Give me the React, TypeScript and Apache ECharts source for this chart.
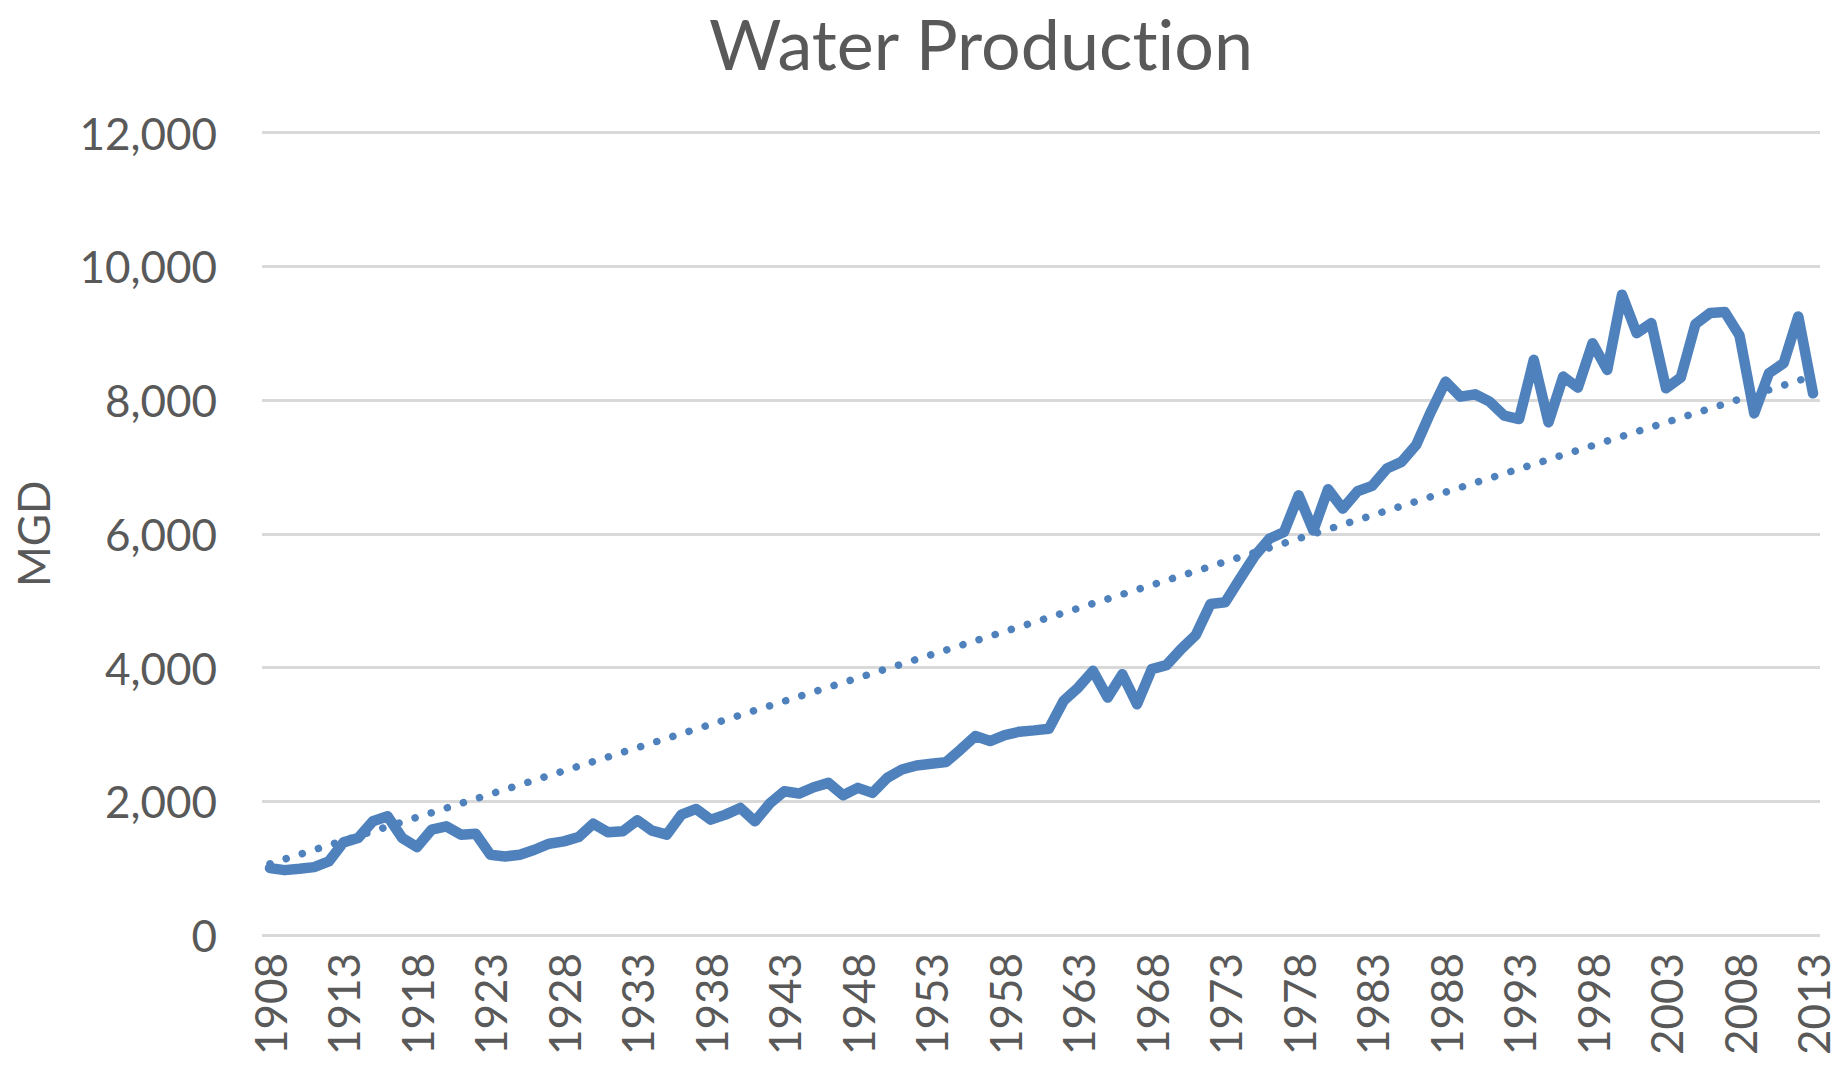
import React, { useEffect, useRef } from "react";
import * as echarts from "echarts";

const firstYear = 1908;
const years: string[] = Array.from({ length: 106 }, (_, i) => String(firstYear + i));

const production: number[] = [
  1000, 970, 990, 1015, 1100, 1385, 1450, 1700, 1775, 1450,
  1315, 1575, 1625, 1500, 1515, 1200, 1175, 1200, 1275, 1365,
  1400, 1465, 1665, 1535, 1550, 1715, 1560, 1500, 1800, 1885,
  1725, 1800, 1900, 1700, 1965, 2150, 2115, 2210, 2275, 2090,
  2200, 2125, 2350, 2475, 2535, 2560, 2585, 2775, 2975, 2900,
  2990, 3040, 3060, 3085, 3500, 3700, 3950, 3550, 3900, 3450,
  3975, 4035, 4275, 4485, 4950, 4975, 5325, 5665, 5925, 6025,
  6575, 6050, 6665, 6375, 6635, 6715, 6975, 7075, 7330, 7825,
  8275, 8050, 8085, 7975, 7765, 7715, 8600, 7665, 8350, 8185,
  8850, 8450, 9575, 9000, 9150, 8175, 8335, 9135, 9300, 9315,
  8965, 7800, 8400, 8550, 9250, 8100,
];

// Linear trendline end values (1908 and 2013)
const trendStart = 1065;
const trendEnd = 8360;

const yMin = 0;
const yMax = 12000;
const yStep = 2000;

const TEXT = "#595959";
const BLUE = "#4F81BD";
const FONT = "Lato";

export default function App() {
  const ref = useRef<HTMLDivElement>(null);

  useEffect(() => {
    if (!ref.current) return;
    const chart = echarts.init(ref.current, null, { renderer: "svg" });
    const trend = years.map((_, i) =>
      i === 0 ? trendStart : i === years.length - 1 ? trendEnd : null
    );
    chart.setOption({
      animation: false,
      backgroundColor: "#ffffff",
      textStyle: { fontFamily: FONT, color: TEXT },
      title: {
        text: "Water Production",
        left: 981,
        top: 8,
        padding: 0,
        textAlign: "center",
        textStyle: {
          fontFamily: FONT,
          fontSize: 70,
          lineHeight: 70,
          fontWeight: "normal",
          color: TEXT,
        },
      },
      grid: [
        { left: 262, right: 19, top: 132.5, bottom: 131 },
        { left: 270, right: 26, top: 132.5, bottom: 131 },
      ],
      xAxis: [
        { gridIndex: 0, type: "value", min: 0, max: 1, show: false },
        {
          gridIndex: 1,
          type: "category",
          data: years,
          boundaryGap: false,
          axisLine: { show: false },
          axisTick: { show: false },
          splitLine: { show: false },
          axisLabel: {
            interval: 4,
            rotate: 90,
            margin: 18,
            color: TEXT,
            fontSize: 44,
            fontFamily: FONT,
          },
        },
      ],
      yAxis: [
        {
          gridIndex: 0,
          type: "value",
          min: yMin,
          max: yMax,
          interval: yStep,
          axisLine: { show: false },
          axisTick: { show: false },
          axisLabel: {
            margin: 45,
            color: TEXT,
            fontSize: 44,
            fontFamily: FONT,
            formatter: (v: number) => v.toLocaleString("en-US"),
          },
          splitLine: { show: true, lineStyle: { color: "#D9D9D9", width: 3 } },
          name: "MGD",
          nameLocation: "middle",
          nameRotate: 90,
          nameGap: 207,
          nameTextStyle: { color: TEXT, fontSize: 44, fontFamily: FONT },
        },
        { gridIndex: 1, type: "value", min: yMin, max: yMax, show: false },
      ],
      series: [
        {
          name: "Water Production",
          type: "line",
          xAxisIndex: 1,
          yAxisIndex: 1,
          data: production,
          showSymbol: false,
          symbol: "none",
          lineStyle: { color: BLUE, width: 10.5, join: "round", cap: "round" },
          itemStyle: { color: BLUE },
          z: 3,
        },
        {
          name: "Linear (Water Production)",
          type: "line",
          xAxisIndex: 1,
          yAxisIndex: 1,
          data: trend,
          connectNulls: true,
          showSymbol: false,
          symbol: "none",
          lineStyle: { color: BLUE, width: 7.5, type: [0.1, 16.8], cap: "round" },
          itemStyle: { color: BLUE },
          z: 2,
        },
      ],
    });
    return () => chart.dispose();
  }, []);

  return (
    <div
      ref={ref}
      style={{
        position: "absolute",
        left: 0,
        top: 0,
        width: 1839,
        height: 1066,
        background: "#fff",
        fontVariantLigatures: "none",
      }}
    />
  );
}
